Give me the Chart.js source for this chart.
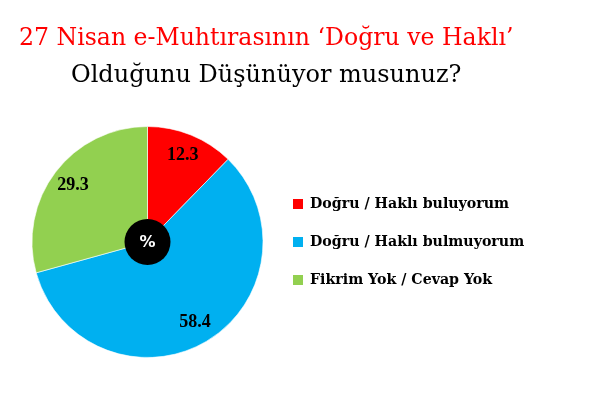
<!DOCTYPE html>
<html>
<head>
<meta charset="utf-8">
<script src="https://cdn.jsdelivr.net/npm/chart.js"></script>
<style>
  html, body { margin: 0; padding: 0; background: #fff; }
  #wrap { position: relative; width: 600px; height: 400px; }
</style>
</head>
<body>
<div id="wrap"><canvas id="pieChart" width="600" height="400"></canvas></div>
<script>
// chart data
const titleLines = ["27 Nisan e-Muhtırasının ‘Doğru ve Haklı’", "Olduğunu Düşünüyor musunuz?"];
const categories = ["Doğru / Haklı buluyorum", "Doğru / Haklı bulmuyorum", "Fikrim Yok / Cevap Yok"];
const values = [12.3, 58.4, 29.3];
const colors = ["#ff0000", "#00b0f0", "#92d050"];
const centerText = "%";

// fit a text to a given width by picking the font size
function fitFont(ctx, text, weight, family, targetWidth) {
  ctx.font = weight + " 100px " + family;
  const w = ctx.measureText(text).width;
  return weight + " " + (100 * targetWidth / w).toFixed(1) + "px " + family;
}

const extras = {
  id: "extras",
  afterDraw(chart) {
    const ctx = chart.ctx;
    const meta = chart.getDatasetMeta(0);
    const arcs = meta.data;
    ctx.save();

    // title
    ctx.textBaseline = "alphabetic";
    ctx.textAlign = "left";
    ctx.fillStyle = "#ff0000";
    ctx.font = fitFont(ctx, titleLines[0], "normal", "'DejaVu Serif', serif", 495);
    ctx.fillText(titleLines[0], 19, 45);
    ctx.fillStyle = "#000";
    ctx.font = fitFont(ctx, titleLines[1], "normal", "'DejaVu Serif', serif", 391);
    ctx.fillText(titleLines[1], 71, 82);

    // value labels
    ctx.textAlign = "center";
    ctx.textBaseline = "middle";
    ctx.font = "bold 18px 'Liberation Serif', serif";
    ctx.fillStyle = "#000";
    arcs.forEach((arc, i) => {
      const mid = (arc.startAngle + arc.endAngle) / 2;
      const r = arc.outerRadius * 0.81;
      ctx.fillText(values[i].toFixed(1), arc.x + Math.cos(mid) * r, arc.y + Math.sin(mid) * r);
    });

    // center badge
    const a0 = arcs[0];
    ctx.beginPath();
    ctx.arc(a0.x, a0.y, 23, 0, Math.PI * 2);
    ctx.fillStyle = "#000";
    ctx.fill();
    ctx.fillStyle = "#fff";
    ctx.font = "bold 16px 'DejaVu Sans', sans-serif";
    ctx.fillText(centerText, a0.x, a0.y + 1);

    // legend
    ctx.textAlign = "left";
    ctx.font = fitFont(ctx, categories[0], "bold", "'DejaVu Serif', serif", 200);
    categories.forEach((label, i) => {
      const y = 204 + i * 38;
      ctx.fillStyle = colors[i];
      ctx.fillRect(293, y - 5, 10, 10);
      ctx.fillStyle = "#000";
      ctx.fillText(label, 310, y);
    });

    ctx.restore();
  }
};

new Chart(document.getElementById("pieChart"), {
  type: "pie",
  data: {
    labels: categories,
    datasets: [{
      data: values,
      backgroundColor: colors,
      borderColor: "rgba(255,255,255,0.6)",
      borderWidth: 1
    }]
  },
  options: {
    responsive: false,
    animation: false,
    layout: { padding: { left: 31, right: 336, top: 126, bottom: 42 } },
    plugins: {
      legend: { display: false },
      tooltip: { enabled: false },
      title: { display: false }
    }
  },
  plugins: [extras]
});
</script>
</body>
</html>
